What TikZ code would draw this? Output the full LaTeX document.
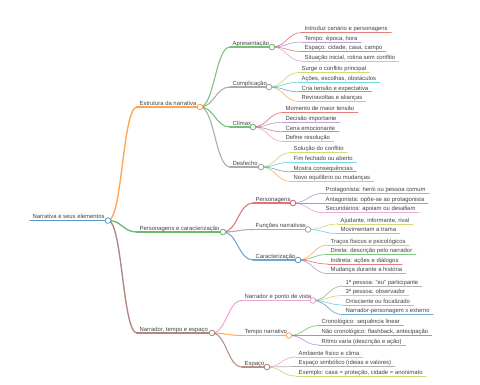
\documentclass[tikz,border=0pt]{standalone}
\usepackage{fontspec}
\setmainfont{Liberation Sans}
\usetikzlibrary{calc}
\definecolor{mmblue}{HTML}{1F77B4}
\definecolor{mmorange}{HTML}{FF7F0E}
\definecolor{mmgreen}{HTML}{2CA02C}
\definecolor{mmred}{HTML}{D62728}
\definecolor{mmpurple}{HTML}{9467BD}
\definecolor{mmbrown}{HTML}{8C564B}
\definecolor{mmpink}{HTML}{E377C2}
\definecolor{mmgray}{HTML}{7F7F7F}
\definecolor{mmolive}{HTML}{BCBD22}
\definecolor{mmcyan}{HTML}{17BECF}
\definecolor{mmtext}{HTML}{444444}
\tikzset{
  lbl/.style={font=\fontsize{5.9pt}{7pt}\selectfont, text=mmtext, inner sep=0pt, anchor=base west},
  dotc/.style={circle, fill=white, minimum size=5.6pt, inner sep=0pt, line width=0.8pt},
  wroot/.style={line width=1.7pt, draw opacity=0.75},
  wone/.style={line width=1.35pt, draw opacity=0.7},
  wtwo/.style={line width=1.05pt, draw opacity=0.65},
  wleaf/.style={line width=0.7pt, draw opacity=0.6},
}
\newcommand\mmbranch[5]{%
  \coordinate (#1-l) at (#2,#3);
  \coordinate (#1-c) at (#4,#3);
  \node[lbl] (#1) at ($(#1-l)+(2.5,-1.8)$) {#5};
}
\newcommand\mmleaf[4]{%
  \coordinate (#1-l) at (#2,#3);
  \node[lbl] (#1) at ($(#1-l)+(2.5,-1.8)$) {#4};
  \coordinate (#1-r) at ($(#1.east |- #1-l)+(3.5,0)$);
}
\newcommand\mmunder[4]{\draw[draw=#3, #4, line cap=round] (#1) -- (#2);}
\newcommand\mmlink[4]{\draw[draw=#3, #4] (#1) .. controls ($(#1)+(14.5,0)$) and ($(#2)+(-14.5,0)$) .. (#2);}
\newcommand\mmdot[2]{\node[dotc, draw=#2!75!white] at (#1) {};}
\begin{document}
\begin{tikzpicture}[x=1pt, y=-1pt]
\fill[white] (0,0) rectangle (480,384);
\useasboundingbox (0,0) rectangle (480,384);
% ---- nodes ----
\mmbranch{root}{30}{220.5}{108}{Narrativa e seus elementos}
\mmbranch{est}{137}{107}{200}{Estrutura da narrativa}
\mmbranch{pec}{137}{232}{223}{Personagens e caracterização}
\mmbranch{nte}{137}{333}{212}{Narrador, tempo e espaço}
\mmbranch{apr}{230}{47}{272}{Apresentação}
\mmbranch{com}{230}{87}{269}{Complicação}
\mmbranch{cli}{230}{127}{253}{Clímax}
\mmbranch{des}{230}{167}{261}{Desfecho}
\mmbranch{per}{253}{203}{293}{Personagens}
\mmbranch{fun}{253}{229.5}{308}{Funções narrativas}
\mmbranch{car}{253}{260}{298}{Caracterização}
\mmbranch{npv}{242}{300.5}{313}{Narrador e ponto de vista}
\mmbranch{tem}{242}{335.5}{289}{Tempo narrativo}
\mmbranch{esp}{242}{367}{267}{Espaço}
% leaves
\mmleaf{a1}{302}{32.5}{Introduz cenário e personagens}
\mmleaf{a2}{302}{42}{Tempo: época, hora}
\mmleaf{a3}{302}{51.5}{Espaço: cidade, casa, campo}
\mmleaf{a4}{302}{61}{Situação inicial, rotina sem conflito}
\mmleaf{b1}{299}{72.5}{Surge o conflito principal}
\mmleaf{b2}{299}{82.2}{Ações, escolhas, obstáculos}
\mmleaf{b3}{299}{91.8}{Cria tensão e expectativa}
\mmleaf{b4}{299}{101.5}{Reviravoltas e alianças}
\mmleaf{c1}{283}{112.5}{Momento de maior tensão}
\mmleaf{c2}{283}{122.2}{Decisão importante}
\mmleaf{c3}{283}{131.8}{Cena emocionante}
\mmleaf{c4}{283}{141.5}{Define resolução}
\mmleaf{d1}{291}{152.5}{Solução do conflito}
\mmleaf{d2}{291}{162.2}{Fim fechado ou aberto}
\mmleaf{d3}{291}{171.8}{Mostra consequências}
\mmleaf{d4}{291}{181.5}{Novo equilíbrio ou mudanças}
\mmleaf{e1}{323}{193.3}{Protagonista: herói ou pessoa comum}
\mmleaf{e2}{323}{203}{Antagonista: opõe-se ao protagonista}
\mmleaf{e3}{323}{212.7}{Secundários: apoiam ou desafiam}
\mmleaf{f1}{338}{224}{Ajudante, informante, rival}
\mmleaf{f2}{338}{233.5}{Movimentam a trama}
\mmleaf{g1}{328}{245}{Traços físicos e psicológicos}
\mmleaf{g2}{328}{254.5}{Direta: descrição pelo narrador}
\mmleaf{g3}{328}{264}{Indireta: ações e diálogos}
\mmleaf{g4}{328}{273.7}{Mudança durante a história}
\mmleaf{h1}{343}{286}{1ª pessoa: "eu" participante}
\mmleaf{h2}{343}{295.5}{3ª pessoa: observador}
\mmleaf{h3}{343}{305}{Onisciente ou focalizado}
\mmleaf{h4}{343}{314.7}{Narrador-personagem x externo}
\mmleaf{i1}{319}{325.5}{Cronológico: sequência linear}
\mmleaf{i2}{319}{335.5}{Não cronológico: flashback, antecipação}
\mmleaf{i3}{319}{345}{Ritmo varia (descrição e ação)}
\mmleaf{j1}{296}{357}{Ambiente físico e clima}
\mmleaf{j2}{296}{366.5}{Espaço simbólico (ideias e valores)}
\mmleaf{j3}{296}{376}{Exemplo: casa = proteção, cidade = anonimato}
% ---- links ----
\mmlink{root-c}{est-l}{mmorange}{wone}
\mmlink{root-c}{pec-l}{mmgreen}{wone}
\mmlink{root-c}{nte-l}{mmbrown}{wone}
\mmlink{est-c}{apr-l}{mmgreen}{wtwo}
\mmlink{est-c}{com-l}{mmgray}{wtwo}
\mmlink{est-c}{cli-l}{mmgreen}{wtwo}
\mmlink{est-c}{des-l}{mmgray}{wtwo}
\mmlink{pec-c}{per-l}{mmred}{wtwo}
\mmlink{pec-c}{fun-l}{mmgray}{wtwo}
\mmlink{pec-c}{car-l}{mmblue}{wtwo}
\mmlink{nte-c}{npv-l}{mmpink}{wtwo}
\mmlink{nte-c}{tem-l}{mmorange}{wtwo}
\mmlink{nte-c}{esp-l}{mmbrown}{wtwo}
\mmlink{apr-c}{a1-l}{mmred}{wleaf}
\mmlink{apr-c}{a2-l}{mmpurple}{wleaf}
\mmlink{apr-c}{a3-l}{mmbrown}{wleaf}
\mmlink{apr-c}{a4-l}{mmpink}{wleaf}
\mmlink{com-c}{b1-l}{mmolive}{wleaf}
\mmlink{com-c}{b2-l}{mmcyan}{wleaf}
\mmlink{com-c}{b3-l}{mmblue}{wleaf}
\mmlink{com-c}{b4-l}{mmorange}{wleaf}
\mmlink{cli-c}{c1-l}{mmred}{wleaf}
\mmlink{cli-c}{c2-l}{mmpurple}{wleaf}
\mmlink{cli-c}{c3-l}{mmbrown}{wleaf}
\mmlink{cli-c}{c4-l}{mmpink}{wleaf}
\mmlink{des-c}{d1-l}{mmolive}{wleaf}
\mmlink{des-c}{d2-l}{mmcyan}{wleaf}
\mmlink{des-c}{d3-l}{mmblue}{wleaf}
\mmlink{des-c}{d4-l}{mmorange}{wleaf}
\mmlink{per-c}{e1-l}{mmpurple}{wleaf}
\mmlink{per-c}{e2-l}{mmbrown}{wleaf}
\mmlink{per-c}{e3-l}{mmpink}{wleaf}
\mmlink{fun-c}{f1-l}{mmolive}{wleaf}
\mmlink{fun-c}{f2-l}{mmcyan}{wleaf}
\mmlink{car-c}{g1-l}{mmorange}{wleaf}
\mmlink{car-c}{g2-l}{mmgreen}{wleaf}
\mmlink{car-c}{g3-l}{mmred}{wleaf}
\mmlink{car-c}{g4-l}{mmpurple}{wleaf}
\mmlink{npv-c}{h1-l}{mmgray}{wleaf}
\mmlink{npv-c}{h2-l}{mmolive}{wleaf}
\mmlink{npv-c}{h3-l}{mmcyan}{wleaf}
\mmlink{npv-c}{h4-l}{mmblue}{wleaf}
\mmlink{tem-c}{i1-l}{mmgreen}{wleaf}
\mmlink{tem-c}{i2-l}{mmred}{wleaf}
\mmlink{tem-c}{i3-l}{mmpurple}{wleaf}
\mmlink{esp-c}{j1-l}{mmpink}{wleaf}
\mmlink{esp-c}{j2-l}{mmgray}{wleaf}
\mmlink{esp-c}{j3-l}{mmolive}{wleaf}
% ---- underlines ----
\mmunder{root-l}{root-c}{mmblue}{wroot}
\mmunder{est-l}{est-c}{mmorange}{wone}
\mmunder{pec-l}{pec-c}{mmgreen}{wone}
\mmunder{nte-l}{nte-c}{mmbrown}{wone}
\mmunder{apr-l}{apr-c}{mmgreen}{wtwo}
\mmunder{com-l}{com-c}{mmgray}{wtwo}
\mmunder{cli-l}{cli-c}{mmgreen}{wtwo}
\mmunder{des-l}{des-c}{mmgray}{wtwo}
\mmunder{per-l}{per-c}{mmred}{wtwo}
\mmunder{fun-l}{fun-c}{mmgray}{wtwo}
\mmunder{car-l}{car-c}{mmblue}{wtwo}
\mmunder{npv-l}{npv-c}{mmpink}{wtwo}
\mmunder{tem-l}{tem-c}{mmorange}{wtwo}
\mmunder{esp-l}{esp-c}{mmbrown}{wtwo}
\mmunder{a1-l}{a1-r}{mmred}{wleaf}
\mmunder{a2-l}{a2-r}{mmpurple}{wleaf}
\mmunder{a3-l}{a3-r}{mmbrown}{wleaf}
\mmunder{a4-l}{a4-r}{mmpink}{wleaf}
\mmunder{b1-l}{b1-r}{mmolive}{wleaf}
\mmunder{b2-l}{b2-r}{mmcyan}{wleaf}
\mmunder{b3-l}{b3-r}{mmblue}{wleaf}
\mmunder{b4-l}{b4-r}{mmorange}{wleaf}
\mmunder{c1-l}{c1-r}{mmred}{wleaf}
\mmunder{c2-l}{c2-r}{mmpurple}{wleaf}
\mmunder{c3-l}{c3-r}{mmbrown}{wleaf}
\mmunder{c4-l}{c4-r}{mmpink}{wleaf}
\mmunder{d1-l}{d1-r}{mmolive}{wleaf}
\mmunder{d2-l}{d2-r}{mmcyan}{wleaf}
\mmunder{d3-l}{d3-r}{mmblue}{wleaf}
\mmunder{d4-l}{d4-r}{mmorange}{wleaf}
\mmunder{e1-l}{e1-r}{mmpurple}{wleaf}
\mmunder{e2-l}{e2-r}{mmbrown}{wleaf}
\mmunder{e3-l}{e3-r}{mmpink}{wleaf}
\mmunder{f1-l}{f1-r}{mmolive}{wleaf}
\mmunder{f2-l}{f2-r}{mmcyan}{wleaf}
\mmunder{g1-l}{g1-r}{mmorange}{wleaf}
\mmunder{g2-l}{g2-r}{mmgreen}{wleaf}
\mmunder{g3-l}{g3-r}{mmred}{wleaf}
\mmunder{g4-l}{g4-r}{mmpurple}{wleaf}
\mmunder{h1-l}{h1-r}{mmgray}{wleaf}
\mmunder{h2-l}{h2-r}{mmolive}{wleaf}
\mmunder{h3-l}{h3-r}{mmcyan}{wleaf}
\mmunder{h4-l}{h4-r}{mmblue}{wleaf}
\mmunder{i1-l}{i1-r}{mmgreen}{wleaf}
\mmunder{i2-l}{i2-r}{mmred}{wleaf}
\mmunder{i3-l}{i3-r}{mmpurple}{wleaf}
\mmunder{j1-l}{j1-r}{mmpink}{wleaf}
\mmunder{j2-l}{j2-r}{mmgray}{wleaf}
\mmunder{j3-l}{j3-r}{mmolive}{wleaf}
% ---- circles ----
\mmdot{root-c}{mmblue}
\mmdot{est-c}{mmorange}
\mmdot{pec-c}{mmgreen}
\mmdot{nte-c}{mmbrown}
\mmdot{apr-c}{mmgreen}
\mmdot{com-c}{mmgray}
\mmdot{cli-c}{mmgreen}
\mmdot{des-c}{mmgray}
\mmdot{per-c}{mmred}
\mmdot{fun-c}{mmgray}
\mmdot{car-c}{mmblue}
\mmdot{npv-c}{mmpink}
\mmdot{tem-c}{mmorange}
\mmdot{esp-c}{mmbrown}
\end{tikzpicture}
\end{document}
